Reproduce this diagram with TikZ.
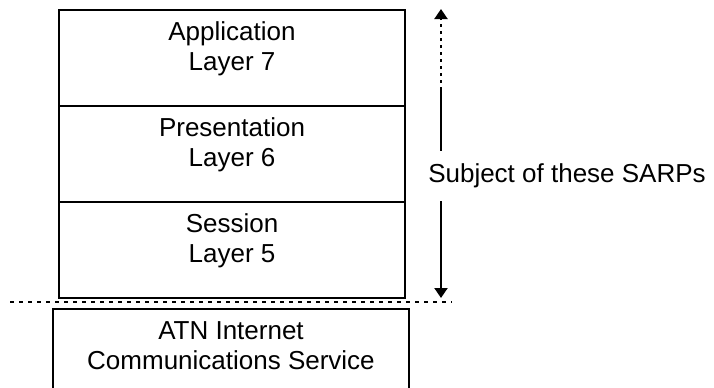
\documentclass[tikz,border=0pt]{standalone}
\usepackage{fontspec}
\setmainfont{Liberation Sans}
\usepackage{tikz}
\usetikzlibrary{positioning}
\usetikzlibrary{arrows.meta}

\begin{document}
\begin{tikzpicture}[x=0.5pt, y=-0.5pt,
layerbox/.style={rectangle, draw, line width=1pt, outer sep=0pt, inner sep=0pt, minimum width=173pt, minimum height=48pt},
layertext/.style={align=center, anchor=north, inner sep=0pt, font=\fontsize{13}{15}\selectfont},
sepline/.style={line width=1pt, dash pattern=on 2pt off 2.5pt},
]
\useasboundingbox (0,0) rectangle (714,387);

%Nodes
\node[layerbox]         (app)       at (232,57.5)       {};
\node[layerbox]         (pres)      [below=0pt of app]  {};
\node[layerbox]         (sess)      [below=0pt of pres] {};
\node[layerbox, minimum width=178pt, minimum height=60pt] (ipcs) [below=5.75pt of sess, xshift=-0.5pt] {};

\node[layertext]        (apptxt)    [below=6pt of app.north]  {Application\\Layer 7};
\node[layertext]        (prestxt)   [below=6pt of pres.north] {Presentation\\Layer 6};
\node[layertext]        (sesstxt)   [below=6pt of sess.north] {Session\\Layer 5};
\node[layertext]        (ipcstxt)   [below=6pt of ipcs.north] {ATN Internet\\Communications Service};

\node[font=\fontsize{13}{15}\selectfont, inner xsep=0pt, inner ysep=6.4pt] (subj) at (567,176) {Subject of these SARPs};

\coordinate (atop)   at (441,9);
\coordinate (abreak) at (441,90);
\coordinate (abot)   at (441,298);
\coordinate (sepL)   at (10,302);
\coordinate (sepR)   at (452,302);

%Lines
\draw[sepline] (sepL) -- (sepR);
\draw[line width=1pt] (abreak |- subj.north) -- (abreak);
\draw[line width=1pt, dash pattern=on 1.5pt off 2pt, -{Triangle[length=5pt, width=6.5pt]}] (abreak) -- (atop);
\draw[line width=1pt, -{Triangle[length=5pt, width=6.5pt]}] (abot |- subj.south) -- (abot);
\end{tikzpicture}
\end{document}
